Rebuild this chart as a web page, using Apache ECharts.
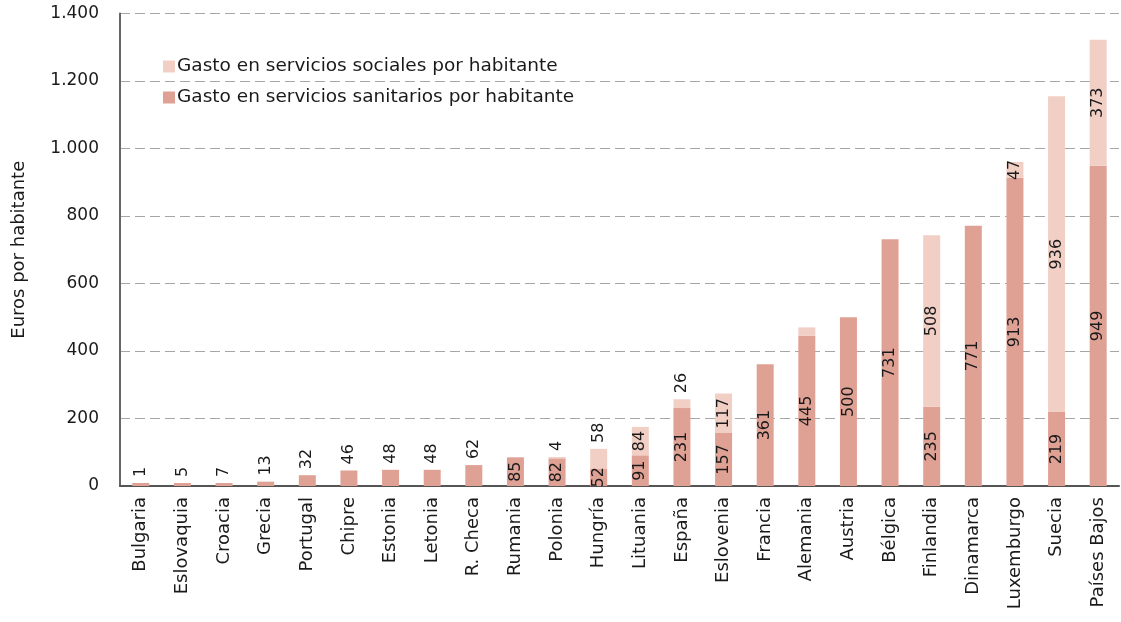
<!DOCTYPE html>
<html>
<head>
<meta charset="utf-8">
<script src="https://cdn.jsdelivr.net/npm/echarts@6/dist/echarts.min.js"></script>
<style>
  html, body { margin: 0; padding: 0; background: #fff; }
  #chart { width: 1121px; height: 622px; }
</style>
</head>
<body>
<div id="chart"></div>
<script>
const paises = ["Bulgaria", "Eslovaquia", "Croacia", "Grecia", "Portugal", "Chipre", "Estonia", "Letonia", "R. Checa", "Rumania", "Polonia", "Hungría", "Lituania", "España", "Eslovenia", "Francia", "Alemania", "Austria", "Bélgica", "Finlandia", "Dinamarca", "Luxemburgo", "Suecia", "Países Bajos"];
const sanitarios = [1, 5, 7, 13, 32, 46, 48, 48, 62, 85, 82, 52, 91, 231, 157, 361, 445, 500, 731, 235, 771, 913, 219, 949];
const sociales = [null, null, null, null, null, null, null, null, null, null, 4, 58, 84, 26, 117, null, 25, null, null, 508, null, 47, 936, 373];
const yTicks = [0, 200, 400, 600, 800, 1000, 1200, 1400];

// etiquetas que van encima de la barra en lugar de dentro
const sanitariosArriba = ["Bulgaria", "Eslovaquia", "Croacia", "Grecia", "Portugal", "Chipre", "Estonia", "Letonia", "R. Checa"];
const socialesArriba = ["Polonia", "Hungría", "España"];
const socialesSinEtiqueta = ["Alemania"];

const colorSanitario = "#e0a195";
const colorSocial = "#f1cfc5";
const fuente = "DejaVu Sans";

function fmt(v) {
  return String(v).replace(/\B(?=(\d{3})+(?!\d))/g, ".");
}

function etiqueta(arriba, oculta) {
  if (oculta) return { show: false };
  if (arriba) {
    return { show: true, position: "top", rotate: 90, align: "left", verticalAlign: "middle", distance: 6 };
  }
  return { show: true, position: "inside", rotate: 90, align: "center", verticalAlign: "middle" };
}

const datosSanitarios = sanitarios.map(function(v, i) {
  return { value: v, label: etiqueta(sanitariosArriba.indexOf(paises[i]) >= 0, false) };
});
const datosSociales = sociales.map(function(v, i) {
  if (v == null) return "-";
  return {
    value: v,
    label: etiqueta(socialesArriba.indexOf(paises[i]) >= 0, socialesSinEtiqueta.indexOf(paises[i]) >= 0)
  };
});

const chart = echarts.init(document.getElementById("chart"));
chart.setOption({
  animation: false,
  textStyle: { fontFamily: fuente },
  grid: { left: 120, right: 2, top: 13.5, bottom: 136, containLabel: false },
  legend: {
    orient: "vertical",
    left: 158,
    top: 52,
    itemWidth: 12,
    itemHeight: 12,
    itemGap: 12,
    icon: "rect",
    textStyle: { fontFamily: fuente, fontSize: 18.5, color: "#1a1a1a", padding: [0, 0, 0, -3] },
    data: ["Gasto en servicios sociales por habitante", "Gasto en servicios sanitarios por habitante"]
  },
  xAxis: {
    type: "category",
    data: paises,
    axisTick: { show: false },
    axisLine: { lineStyle: { color: "#555", width: 2 } },
    axisLabel: { rotate: 90, fontFamily: fuente, fontSize: 18, color: "#1a1a1a", margin: 11, interval: 0 }
  },
  yAxis: {
    type: "value",
    min: yTicks[0],
    max: yTicks[yTicks.length - 1],
    interval: 200,
    name: "Euros por habitante",
    nameLocation: "middle",
    nameGap: 92,
    nameTextStyle: { fontFamily: fuente, fontSize: 18, color: "#1a1a1a" },
    axisLine: { show: true, lineStyle: { color: "#666", width: 2 } },
    axisTick: { show: false },
    axisLabel: { fontFamily: fuente, fontSize: 17, color: "#1a1a1a", margin: 21, formatter: fmt },
    splitLine: { lineStyle: { color: "#a6a6a6", type: [10, 5], width: 1.2 } }
  },
  series: [
    {
      name: "Gasto en servicios sanitarios por habitante",
      type: "bar",
      stack: "total",
      barWidth: 17,
      barMinHeight: 3,
      itemStyle: { color: colorSanitario },
      label: { fontFamily: fuente, fontSize: 16, color: "#1a1a1a" },
      data: datosSanitarios
    },
    {
      name: "Gasto en servicios sociales por habitante",
      type: "bar",
      stack: "total",
      barWidth: 17,
      itemStyle: { color: colorSocial },
      label: { fontFamily: fuente, fontSize: 16, color: "#1a1a1a" },
      data: datosSociales
    }
  ]
});
</script>
</body>
</html>
